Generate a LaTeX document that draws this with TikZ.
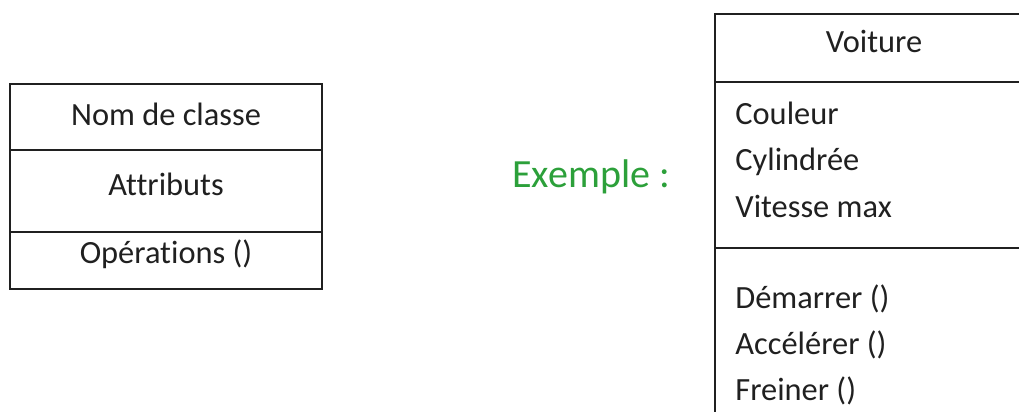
\documentclass[tikz,border=0pt]{standalone}
\usepackage{fontspec}
\setmainfont[Ligatures=NoCommon]{Carlito}
\usetikzlibrary{positioning}
\definecolor{inkgrey}{RGB}{32,32,32}
\definecolor{exgreen}{RGB}{44,160,58}

\begin{document}
\begin{tikzpicture}[x=0.5pt, y=-0.5pt,
  font=\fontsize{16.2}{19}\selectfont, text=inkgrey,
  part/.style={draw=inkgrey, line width=1.1pt, inner sep=0pt, outer sep=0pt, anchor=north},
  lbl/.style={anchor=base, inner sep=0pt},
  item/.style={anchor=base west, inner sep=0pt},
]
\useasboundingbox (0,0) rectangle (1019,412);
\clip (0,0) rectangle (1019,412);

% generic class
\node[part, minimum width=156pt, minimum height=33pt] (nomcls) at (166,84) {};
\node[part, minimum width=156pt, minimum height=41pt, below=0pt of nomcls] (attrcls) {};
\node[part, minimum width=156pt, minimum height=28.5pt, below=0pt of attrcls] (opcls) {};
\node[lbl] (tnom) at (166,125) {Nom de classe};
\node[lbl] (tattr) at (166,195) {Attributs};
\node[lbl] (top) at (166,263) {Opérations ()};

% example
\node[font=\fontsize{20}{24}\selectfont, text=exgreen, anchor=base west, inner sep=0pt] (ex) at (512,187) {Exemple :};

% Voiture class
\node[part, minimum width=159pt, minimum height=34pt] (voit) at (874,14) {};
\node[part, minimum width=159pt, minimum height=83pt, below=0pt of voit] (voitattr) {};
\node[part, minimum width=159pt, minimum height=90pt, below=0pt of voitattr] (voitop) {};
\node[lbl] (tvoit) at (874,53) {Voiture};
\node[item] (coul) at (735,124) {Couleur};
\node[item] (cyl) at (735,170) {Cylindrée};
\node[item] (vit) at (735,217) {Vitesse max};
\node[item] (dem) at (735,308) {Démarrer ()};
\node[item] (acc) at (735,354) {Accélérer ()};
\node[item] (frei) at (735,400) {Freiner ()};
\end{tikzpicture}
\end{document}
